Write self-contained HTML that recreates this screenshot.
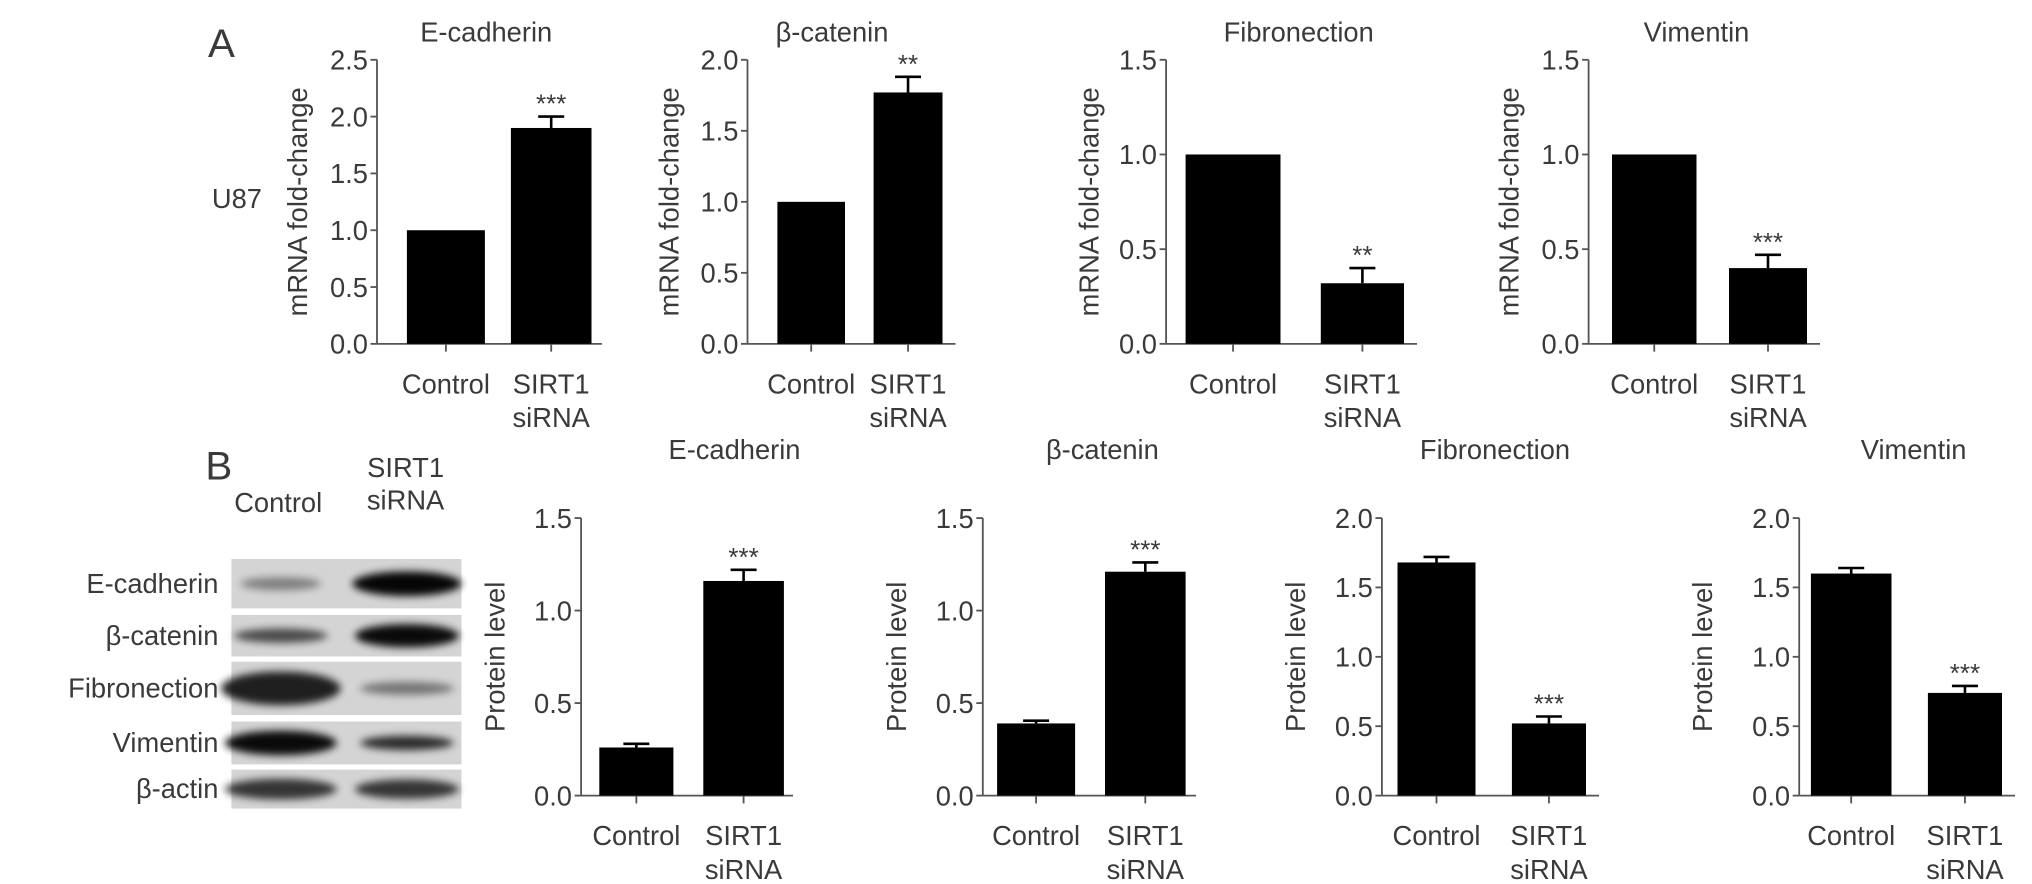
<!DOCTYPE html>
<html><head><meta charset="utf-8"><style>
html,body{margin:0;padding:0;background:#fff;width:2032px;height:884px;overflow:hidden}
svg text{font-family:"Liberation Sans",sans-serif;fill:#3a3a3a}
</style></head><body>
<svg id="fig" width="2032" height="884" viewBox="0 0 2032 884" xmlns="http://www.w3.org/2000/svg">
<defs><filter id="blur" x="-50%" y="-100%" width="200%" height="300%"><feGaussianBlur stdDeviation="3"/></filter></defs>
<g id="root" transform="scale(1.3)"></g>
</svg>
<script>
// ---- data ----
const categories = ["Control", "SIRT1 siRNA"];
const mrnaTitles = ["E-cadherin", "β-catenin", "Fibronection", "Vimentin"];
const mrnaControl = [1.0, 1.0, 1.0, 1.0];
const mrnaSirt = [1.9, 1.77, 0.32, 0.40];
const mrnaSirtErr = [0.1, 0.11, 0.08, 0.07];
const mrnaStars = ["***", "**", "**", "***"];
const mrnaMax = [2.5, 2.0, 1.5, 1.5];
const mrnaTicks = [["0.0","0.5","1.0","1.5","2.0","2.5"], ["0.0","0.5","1.0","1.5","2.0"], ["0.0","0.5","1.0","1.5"], ["0.0","0.5","1.0","1.5"]];
const protTitles = ["E-cadherin", "β-catenin", "Fibronection", "Vimentin"];
const protControl = [0.26, 0.39, 1.68, 1.60];
const protControlErr = [0.02, 0.015, 0.04, 0.04];
const protSirt = [1.16, 1.21, 0.52, 0.74];
const protSirtErr = [0.06, 0.05, 0.05, 0.05];
const protStars = ["***", "***", "***", "***"];
const protMax = [1.5, 1.5, 2.0, 2.0];
const protTicks = [["0.0","0.5","1.0","1.5"], ["0.0","0.5","1.0","1.5"], ["0.0","0.5","1.0","1.5","2.0"], ["0.0","0.5","1.0","1.5","2.0"]];
const blotLabels = ["E-cadherin", "β-catenin", "Fibronection", "Vimentin", "β-actin"];
const blotControl = [0.4, 0.65, 0.85, 0.95, 0.75];
const blotSirt = [0.97, 0.95, 0.45, 0.8, 0.75];

const NS = "http://www.w3.org/2000/svg";
const root = document.getElementById("root");
function el(tag, attrs, parent, txt) {
  const e = document.createElementNS(NS, tag);
  for (const k in attrs) e.setAttribute(k, attrs[k]);
  if (txt !== undefined) e.textContent = txt;
  (parent || root).appendChild(e);
  return e;
}
const FS = 21;
function chart(cfg, title, ctrl, ctrlErr, sirt, sirtErr, star, max, ticks, ylabel, nm) {
  const g = el("g", {});
  
  
  const y = v => cfg.yBot - (v / max) * (cfg.yBot - cfg.yTop);
  const ya = el("line", {x1: cfg.ax, x2: cfg.ax, y1: cfg.yTop, y2: cfg.yBot, stroke: "#555", "stroke-width": 1.4}, g);
  
  
  const xa = el("line", {x1: cfg.ax, x2: cfg.xEnd, y1: cfg.yBot, y2: cfg.yBot, stroke: "#555", "stroke-width": 1.4}, g);
  
  
  ticks.forEach(t => {
    const v = parseFloat(t);
    el("line", {x1: cfg.ax - 5, x2: cfg.ax, y1: y(v), y2: y(v), stroke: "#555", "stroke-width": 1.4}, g);
    const tl = el("text", {x: cfg.ax - 7, y: y(v) + 7.5, "text-anchor": "end", "font-size": FS}, g, t);
    
    
  });
  const mid = (cfg.yTop + cfg.yBot) / 2;
  const yl = el("text", {x: cfg.ylx, y: mid, "text-anchor": "middle", "font-size": FS, transform: `rotate(-90 ${cfg.ylx} ${mid})`}, g, ylabel);
  
  
  const tt = el("text", {x: cfg.tx, y: cfg.ty, "text-anchor": "middle", "font-size": FS}, g, title);
  
  
  const vals = [ctrl, sirt], errs = [ctrlErr, sirtErr];
  cfg.bars.forEach((b, i) => {
    const top = y(vals[i]);
    const r = el("rect", {x: b[0], y: top, width: b[1] - b[0], height: cfg.yBot - top, fill: "#000"}, g);
    
    
    const cx = (b[0] + b[1]) / 2;
    if (errs[i] > 0) {
      const et = y(vals[i] + errs[i]);
      el("line", {x1: cx, x2: cx, y1: top, y2: et, stroke: "#000", "stroke-width": 2}, g);
      el("line", {x1: cx - 10, x2: cx + 10, y1: et, y2: et, stroke: "#000", "stroke-width": 2}, g);
      if (i === 1) {
        const s = el("text", {x: cx, y: et - 3, "text-anchor": "middle", "font-size": 20}, g, star);
        
        
      }
    }
    el("line", {x1: cx, x2: cx, y1: cfg.yBot, y2: cfg.yBot + 6, stroke: "#555", "stroke-width": 1.4}, g);
    if (i === 0) {
      const c = el("text", {x: cx, y: cfg.yBot + 38, "text-anchor": "middle", "font-size": FS}, g, categories[0]);
      
      
    } else {
      const c = el("text", {x: cx, y: cfg.yBot + 38, "text-anchor": "middle", "font-size": FS}, g, "SIRT1");
      
      
      const c2 = el("text", {x: cx, y: cfg.yBot + 64, "text-anchor": "middle", "font-size": FS}, g, "siRNA");
      
      
    }
  });
}

const aLayout = [
  {ax: 290, xEnd: 463, bars: [[313, 373], [393, 455]], ylx: 236, tx: 374},
  {ax: 575, xEnd: 735, bars: [[598, 650], [672, 725]], ylx: 522, tx: 640},
  {ax: 897, xEnd: 1090, bars: [[912, 985], [1016, 1080]], ylx: 845, tx: 999},
  {ax: 1222, xEnd: 1400, bars: [[1240, 1305], [1330, 1390]], ylx: 1168, tx: 1305}
];
const bLayout = [
  {ax: 447, xEnd: 610, bars: [[461, 518], [541, 603]], ylx: 388, tx: 565},
  {ax: 756, xEnd: 920, bars: [[767, 827], [850, 912]], ylx: 697, tx: 848},
  {ax: 1063, xEnd: 1230, bars: [[1075, 1135], [1163, 1220]], ylx: 1004, tx: 1150},
  {ax: 1384, xEnd: 1550, bars: [[1393, 1455], [1483, 1540]], ylx: 1317, tx: 1472}
];
for (let i = 0; i < 4; i++) {
  const c = Object.assign({yTop: 46, yBot: 264.5, ty: 32}, aLayout[i]);
  chart(c, mrnaTitles[i], mrnaControl[i], 0, mrnaSirt[i], mrnaSirtErr[i], mrnaStars[i], mrnaMax[i], mrnaTicks[i], "mRNA fold-change", "mrna-chart-" + (i + 1));
}
for (let i = 0; i < 4; i++) {
  const c = Object.assign({yTop: 398.5, yBot: 612, ty: 353}, bLayout[i]);
  chart(c, protTitles[i], protControl[i], protControlErr[i], protSirt[i], protSirtErr[i], protStars[i], protMax[i], protTicks[i], "Protein level", "protein-chart-" + (i + 1));
}

const pa = el("text", {x: 160, y: 44, "font-size": 31}, root, "A");


const pb = el("text", {x: 158, y: 369, "font-size": 31}, root, "B");


const u87 = el("text", {x: 163, y: 160, "font-size": FS}, root, "U87");



const blot = el("g", {});


const h1 = el("text", {x: 214, y: 394, "text-anchor": "middle", "font-size": FS}, blot, "Control");


const h2 = el("text", {x: 312, y: 367, "text-anchor": "middle", "font-size": FS}, blot, "SIRT1");


const h3 = el("text", {x: 312, y: 392, "text-anchor": "middle", "font-size": FS}, blot, "siRNA");


const rows = [[430, 468], [473, 505], [509, 550], [555, 588], [592, 622]];
const bandW = [[62, 84], [72, 80], [92, 72], [86, 72], [86, 80]];
const bandH = [[6, 15], [7, 14], [22, 6], [15, 7], [12, 11]];
blotLabels.forEach((lab, i) => {
  const [t, b] = rows[i];
  const bg = el("rect", {x: 178, y: t, width: 177, height: b - t, fill: "#d4d4d4"}, blot);
  
  
  const cy = (t + b) / 2;
  [[216, blotControl[i]], [313, blotSirt[i]]].forEach((p, j) => {
    const e = el("ellipse", {cx: p[0], cy: cy, rx: bandW[i][j] / 2, ry: bandH[i][j] / 2 + 2, fill: "#000", opacity: p[1], filter: "url(#blur)"}, blot);
    
    
  });
  const l = el("text", {x: 168, y: cy + 7, "text-anchor": "end", "font-size": FS}, blot, lab);
  
  
});
</script>
</body></html>
